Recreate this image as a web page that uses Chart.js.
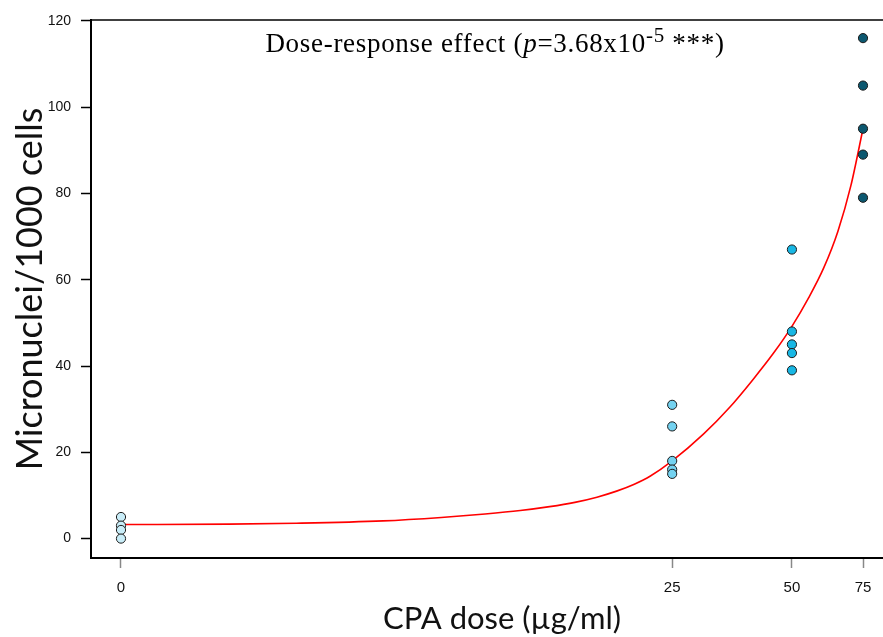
<!DOCTYPE html>
<html>
<head>
<meta charset="utf-8">
<script src="https://cdn.jsdelivr.net/npm/chart.js@4.4.1/dist/chart.umd.min.js"></script>
<style>
  html, body { margin: 0; padding: 0; background: #fff; }
  #wrap { width: 883px; height: 637px; }
</style>
</head>
<body>
<div id="wrap"><canvas id="doseChart"></canvas></div>
<script>
// Dose groups (µg/ml) and micronuclei counts per 1000 cells
const doseTicks = [0, 25, 50, 75];
const yTicks = [0, 20, 40, 60, 80, 100, 120];
const dose0 = [5, 3, 2, 0];
const dose25 = [31, 26, 18, 16, 15];
const dose50 = [67, 48, 45, 43, 39];
const dose75 = [116, 105, 95, 89, 79];
const groupColors = ['#c9edf8', '#74d2f0', '#18b7e4', '#0c5870'];

// Fitted curve
const fitDose = [0, 1, 2, 4, 6, 8, 10, 12, 14, 16, 18, 20, 22, 25, 30, 35, 40, 45, 50, 55, 60, 65, 70, 75];
const fitValue = [3.25, 3.35, 3.55, 4.1, 4.9, 5.7, 6.5, 7.4, 8.4, 9.6, 11.0, 12.6, 14.5, 18.0, 24.2, 30.5, 36.9, 43.0, 49.2, 55.8, 62.8, 71.2, 81.8, 95.0];

// x axis is log(dose + offset)
const DOSE_OFFSET = 1.2;
const tx = d => Math.log(d + DOSE_OFFSET);

function group(dose, values) {
    return values.map(v => ({x: tx(dose), y: v}));
}

const groups = [dose0, dose25, dose50, dose75];

const datasets = groups.map((vals, i) => ({
    type: 'scatter',
    data: group(doseTicks[i], vals),
    backgroundColor: groupColors[i],
    borderColor: '#1b1b1b',
    borderWidth: 1,
    pointRadius: 4.6,
    pointHoverRadius: 4.6
}));

datasets.push({
    type: 'line',
    data: fitDose.map((d, i) => ({x: tx(d), y: fitValue[i]})),
    borderColor: '#ff0000',
    borderWidth: 1.6,
    pointRadius: 0,
    fill: false,
    cubicInterpolationMode: 'monotone'
});

// Top frame line, x title and the p-value note
const extras = {
    id: 'extras',
    afterDraw(chart) {
        const {ctx, chartArea} = chart;
        ctx.save();
        ctx.strokeStyle = '#000';
        ctx.lineWidth = 1.6;
        ctx.beginPath();
        ctx.moveTo(chartArea.left, chartArea.top);
        ctx.lineTo(chart.width, chartArea.top);
        ctx.stroke();

        ctx.fillStyle = '#111';
        ctx.font = '31px Lato';
        ctx.textAlign = 'center';
        ctx.textBaseline = 'middle';
        ctx.fillText('CPA dose (µg/ml)', 502, 619);

        const size = 27;
        const parts = [
            {t: 'Dose-response effect (', f: size + 'px "Liberation Serif"', dy: 0},
            {t: 'p', f: 'italic ' + size + 'px "Liberation Serif"', dy: 0},
            {t: '=3.68x10', f: size + 'px "Liberation Serif"', dy: 0},
            {t: '-5', f: '21px "Liberation Serif"', dy: -10},
            {t: ' ***)', f: size + 'px "Liberation Serif"', dy: 0}
        ];
        ctx.letterSpacing = '0.7px';
        let total = 0;
        parts.forEach(p => { ctx.font = p.f; p.w = ctx.measureText(p.t).width; total += p.w; });
        let x = 495 - total / 2;
        const y = 52;
        ctx.fillStyle = '#000';
        ctx.textAlign = 'left';
        ctx.textBaseline = 'alphabetic';
        parts.forEach(p => {
            ctx.font = p.f;
            ctx.fillText(p.t, x, y + p.dy);
            x += p.w;
        });
        ctx.restore();
    }
};

new Chart(document.getElementById('doseChart'), {
    data: { datasets: datasets },
    options: {
        responsive: true,
        maintainAspectRatio: false,
        animation: false,
        layout: { autoPadding: false, padding: { top: 20, right: 0, left: 0, bottom: 0 } },
        plugins: {
            legend: { display: false },
            tooltip: { enabled: false }
        },
        scales: {
            x: {
                type: 'linear',
                min: 0.0145,
                max: 4.4452,
                afterFit: scale => {
                    scale.height = 79;
                    scale.paddingLeft = 0;
                    scale.paddingRight = 0;
                },
                afterBuildTicks: scale => {
                    scale.ticks = doseTicks.map(d => ({value: tx(d)}));
                },
                border: { color: '#000', width: 2 },
                grid: {
                    display: true,
                    drawOnChartArea: false,
                    tickLength: 10,
                    tickColor: '#888',
                    tickWidth: 1.5
                },
                ticks: {
                    autoSkip: false,
                    maxRotation: 0,
                    padding: 11,
                    color: '#111',
                    font: { family: '"Liberation Sans", Arial', size: 15 },
                    callback: (value, index) => String(doseTicks[index])
                }
            },
            y: {
                min: -4.5,
                max: 120.2,
                afterFit: scale => { scale.width = 91; },
                afterBuildTicks: scale => {
                    scale.ticks = yTicks.map(v => ({value: v}));
                },
                border: { color: '#000', width: 2 },
                grid: {
                    display: true,
                    drawOnChartArea: false,
                    tickLength: 10,
                    tickColor: '#000',
                    tickWidth: 1.5
                },
                ticks: {
                    padding: 10,
                    color: '#111',
                    font: { family: '"Liberation Sans", Arial', size: 14 }
                },
                title: {
                    display: true,
                    text: 'Micronuclei/1000 cells',
                    color: '#111',
                    padding: { top: 12, bottom: 0 },
                    font: { family: 'Lato', size: 36, lineHeight: 1 }
                }
            }
        }
    },
    plugins: [extras]
});
</script>
</body>
</html>
